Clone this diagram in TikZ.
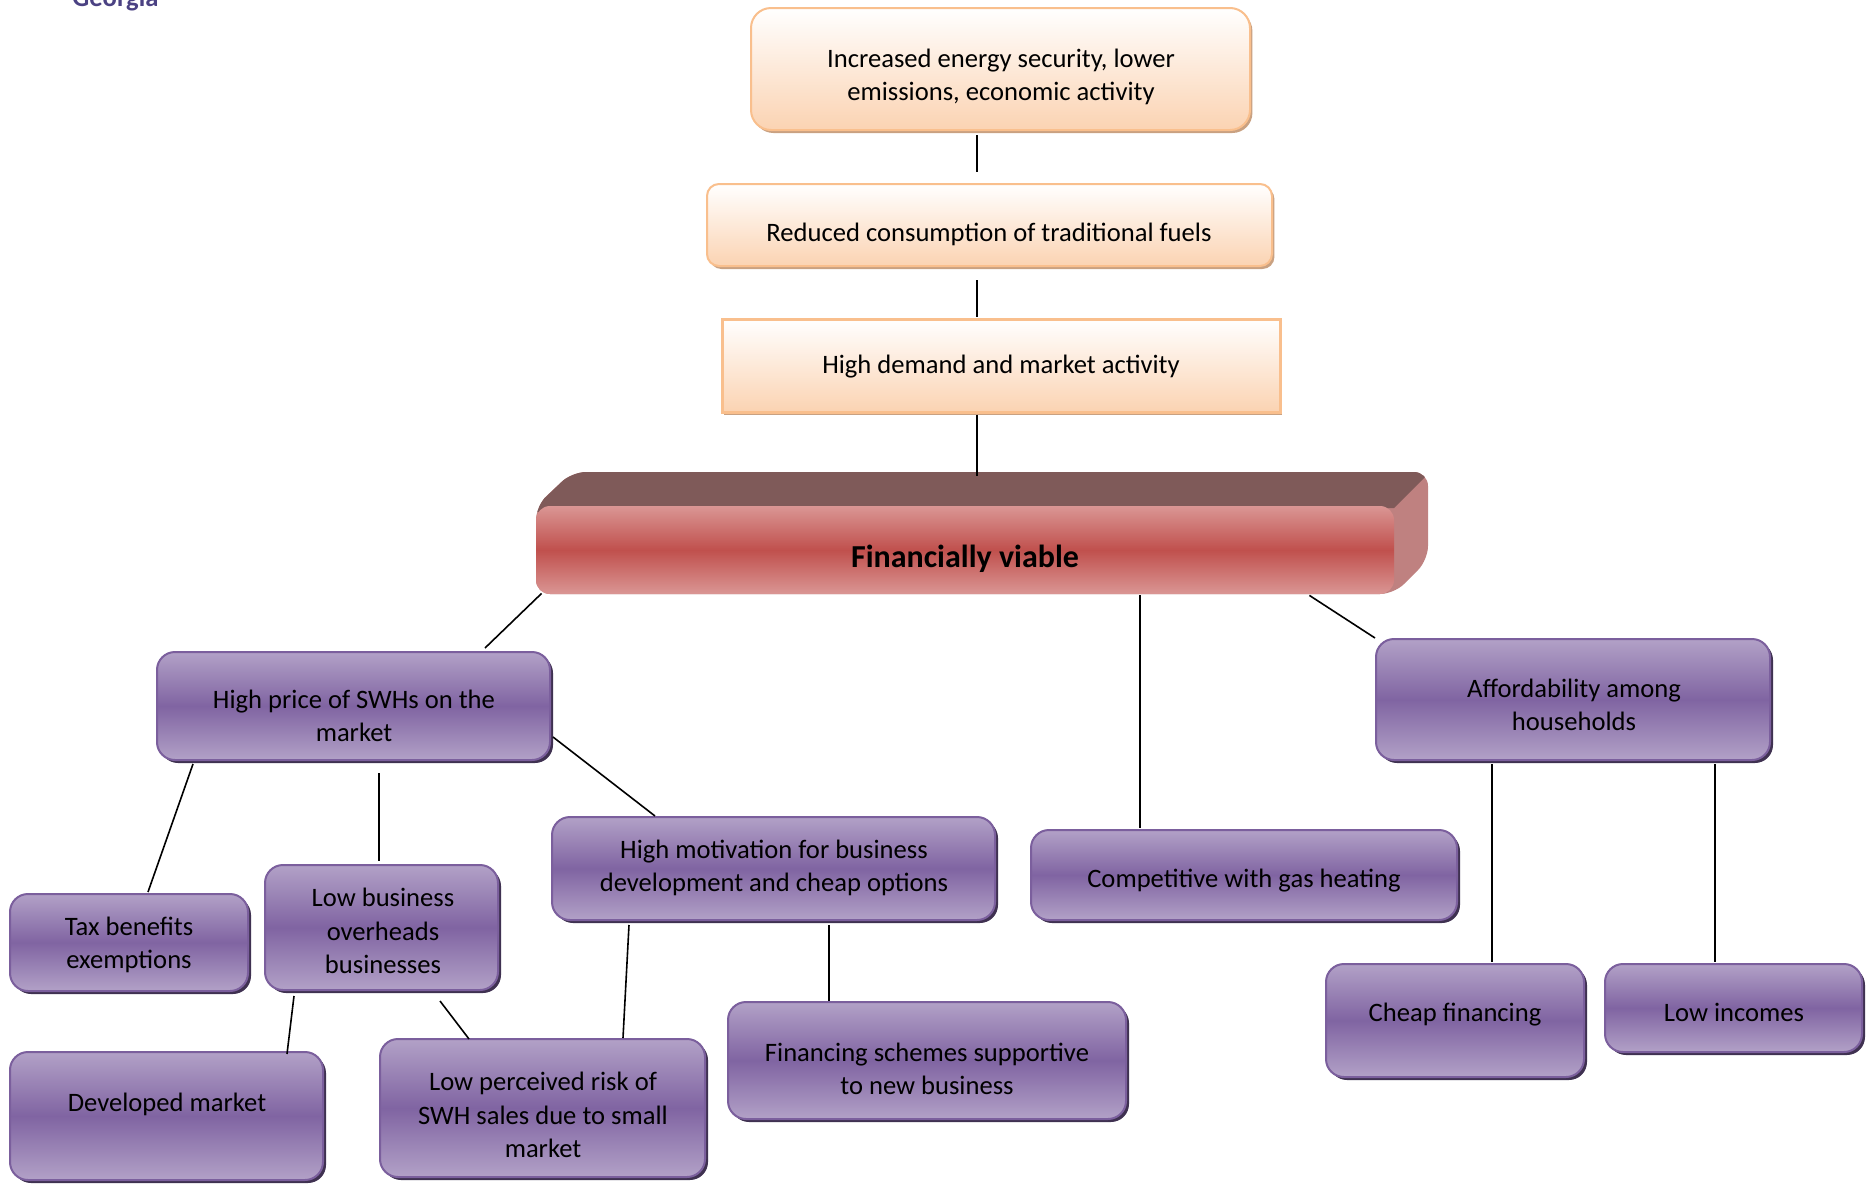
\documentclass[tikz,border=0pt]{standalone}
\usepackage{fontspec}
\setmainfont{Carlito}
\usetikzlibrary{calc,shadows}
\definecolor{peachbot}{HTML}{FBD3B2}
\definecolor{peachline}{HTML}{F9BF8D}
\definecolor{peachshadow}{HTML}{C9A181}
\definecolor{plight}{HTML}{B2A1C7}
\definecolor{pdark}{HTML}{8064A2}
\definecolor{pborder}{HTML}{7B5F9D}
\definecolor{pshadow}{HTML}{3F3151}
\definecolor{fvlight}{HTML}{DA9694}
\definecolor{fvdark}{HTML}{C0504D}
\definecolor{fvtop}{HTML}{7F5A59}
\definecolor{fvside}{HTML}{BF8180}
\definecolor{geoc}{HTML}{4B4283}
\begin{document}
\begin{tikzpicture}[x=0.5pt,y=-0.5pt,
  sz/.style 2 args={minimum width=#1*0.5pt, minimum height=#2*0.5pt, inner sep=0pt},
  txt/.style={font=\fontsize{13.3}{16.6}\selectfont, align=center, inner sep=0pt},
  pbox/.style={draw=pborder, line width=1pt, rounded corners=9pt,
    top color=plight, bottom color=plight, middle color=pdark,
    general shadow={fill=pshadow, shadow xshift=1.5pt, shadow yshift=-1.5pt}},
  peachbox/.style={draw=peachline, line width=1pt,
    top color=white, bottom color=peachbot,
    general shadow={fill=peachshadow, shadow xshift=1.2pt, shadow yshift=-1.5pt}},
  conn/.style={draw=black, line width=0.8pt}]
\useasboundingbox (0,0) rectangle (1875,1184);
\fill[white] (0,0) rectangle (1875,1184);

% heading fragment
\node[anchor=base west, font=\fontsize{13.3}{16}\selectfont\bfseries, text=geoc, inner sep=0pt] (geo) at (72,6) {Georgia};

% peach boxes
\node[peachbox, rounded corners=10pt, sz={499}{122}] (t1) at (1000.5,69) {};
\node[txt] (t1t) at (1001,77) {Increased energy security, lower\\emissions, economic activity};
\node[peachbox, rounded corners=6pt, sz={565}{82}] (t2) at (989.5,225) {};
\node[txt] (t2t) at (989,234) {Reduced consumption of traditional fuels};
\node[peachbox, line width=1.5pt, sz={558}{93}] (t3) at (1001,365.5) {};
\node[txt] (t3t) at (1001,367) {High demand and market activity};

% financially viable 3D bar
\begin{scope}
  \clip[rounded corners=7pt] (536,506) -- (572,472) -- (1428,472) -- (1428,560) -- (1394,594) -- (536,594) -- cycle;
  \fill[fvside] (536,472) rectangle (1430,596);
  \fill[fvtop] (530,512) -- (572,472) -- (1430,472) -- (1394,508) -- cycle;
\end{scope}
\node[sz={858}{88}, rounded corners=7pt, top color=fvlight, bottom color=fvlight, middle color=fvdark] (fv) at (965,550) {};
\node[font=\fontsize{16}{19}\selectfont\bfseries, inner sep=0pt] (fvt) at (965,559) {Financially viable};

% purple boxes
\node[pbox, sz={393}{108}] (hp) at (353.5,706) {};
\node[txt] (hpt) at (354,716) {High price of SWHs on the\\market};
\node[pbox, sz={394}{121}] (af) at (1573,699.5) {};
\node[txt] (aft) at (1574,705) {Affordability among\\households};
\node[pbox, sz={238}{97}] (tax) at (129,942.5) {};
\node[txt] (taxt) at (129,945) {Tax benefits\\exemptions};
\node[pbox, sz={233}{125}] (lb) at (381.5,927.5) {};
\node[txt] (lbt) at (383,931) {Low business\\overheads\\businesses};
\node[pbox, sz={443}{103}] (hm) at (773.5,868.5) {};
\node[txt] (hmt) at (774,867.5) {High motivation for business\\development and cheap options};
\node[pbox, sz={426}{90}] (comp) at (1244,875) {};
\node[txt] (compt) at (1244,881) {Competitive with gas heating};
\node[pbox, sz={313}{128}] (dm) at (166.5,1116) {};
\node[txt] (dmt) at (167,1104) {Developed market};
\node[pbox, sz={325}{138}] (lp) at (542.5,1108) {};
\node[txt] (lpt) at (543,1115) {Low perceived risk of\\SWH sales due to small\\market};
\node[pbox, sz={398}{117}] (fs) at (927,1060.5) {};
\node[txt] (fst) at (927,1069) {Financing schemes supportive\\to new business};
\node[pbox, sz={258}{113}] (cf) at (1455,1020.5) {};
\node[txt] (cft) at (1455,1015) {Cheap financing};
\node[pbox, sz={257}{88}] (li) at (1733.5,1008) {};
\node[txt] (lit) at (1734,1012) {Low incomes};

% connectors
\draw[conn] ($(t1.south)+(-23.5,4)$) -- ($(t2.north)+(-12.5,-11)$);
\draw[conn] ($(t2.south)+(-12.5,13)$) -- ($(t3.north)+(-24,-1)$);
\draw[conn] ($(t3.south)+(-24,1)$) -- ($(fv.north)+(12,-30)$);
\draw[conn] ($(fv.south west)+(6,-1)$) -- ($(hp.north east)+(-66,-3)$);
\draw[conn] ($(fv.south)+(175,1)$) -- ($(comp.north)+(-104,-1)$);
\draw[conn] ($(fv.south east)+(-85,1)$) -- (af.north west);
\draw[conn] ($(hp.south west)+(37,3)$) -- ($(tax.north west)+(139,-1)$);
\draw[conn] ($(hp.south)+(25.5,12)$) -- ($(lb.north)+(-2.5,-3)$);
\draw[conn] ($(hp.east)+(2,31)$) -- ($(hm.north west)+(104,0)$);
\draw[conn] ($(lb.south west)+(30,5)$) -- ($(dm.north east)+(-37,3)$);
\draw[conn] ($(lb.south)+(58.5,10)$) -- ($(lp.north west)+(90,1)$);
\draw[conn] ($(hm.south west)+(78,4)$) -- ($(lp.north east)+(-83,0)$);
\draw[conn] ($(hm.south)+(55.5,4)$) -- ($(fs.north)+(-98,0)$);
\draw[conn] ($(af.south)+(-81,3)$) -- ($(cf.north)+(37,-1)$);
\draw[conn] ($(af.south)+(142,3)$) -- ($(li.north)+(-18.5,-1)$);
\end{tikzpicture}
\end{document}
